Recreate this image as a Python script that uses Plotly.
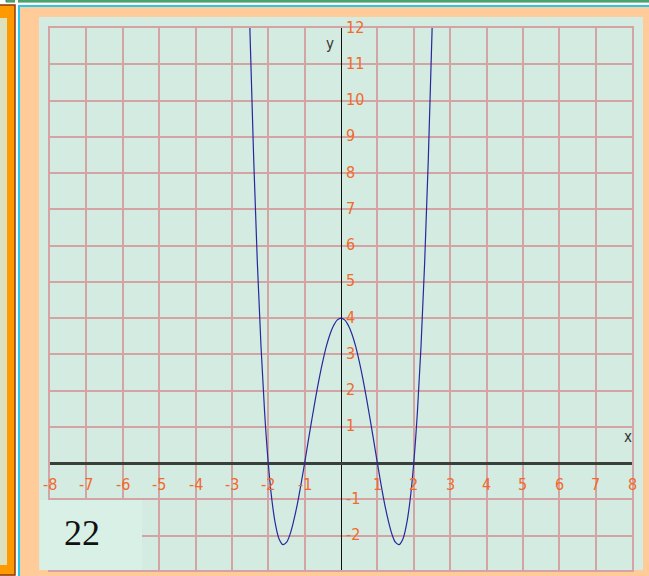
import plotly.graph_objects as go

# Curve y = f(x) sampled along x (readings of the plotted quartic)
curve_x = [-2.6, -2.5, -2.4, -2.3, -2.2, -2.1, -2.0, -1.9, -1.8, -1.7, -1.6, -1.5, -1.4,
           -1.3, -1.2, -1.1, -1.0, -0.9, -0.8, -0.7, -0.6, -0.5, -0.4, -0.3, -0.2, -0.1,
           0.0, 0.1, 0.2, 0.3, 0.4, 0.5, 0.6, 0.7, 0.8, 0.9, 1.0, 1.1, 1.2, 1.3, 1.4,
           1.5, 1.6, 1.7, 1.8, 1.9, 2.0, 2.1, 2.2, 2.3, 2.4, 2.5, 2.6]
curve_y = [15.90, 11.81, 8.38, 5.53, 3.23, 1.40, 0.00, -1.02, -1.70, -2.10, -2.25, -2.19, -1.96,
           -1.59, -1.13, -0.59, 0.00, 0.61, 1.21, 1.79, 2.33, 2.81, 3.23, 3.56, 3.80, 3.95,
           4.00, 3.95, 3.80, 3.56, 3.23, 2.81, 2.33, 1.79, 1.21, 0.61, 0.00, -0.59, -1.13, -1.59, -1.96,
           -2.19, -2.25, -2.10, -1.70, -1.02, 0.00, 1.40, 3.23, 5.53, 8.38, 11.81, 15.90]

# Tick labels written along the axes
x_ticks = [-8, -7, -6, -5, -4, -3, -2, -1, 1, 2, 3, 4, 5, 6, 7, 8]
y_ticks = [12, 11, 10, 9, 8, 7, 6, 5, 4, 3, 2, 1, -1, -2]
badge_text = "22"

W, H = 649, 576
ML, MR, MT, MB = 50, 17, 28, 6
PW, PH = W - ML - MR, H - MT - MB


def px(x):
    return (x - ML) / PW


def py(y):
    return (H - MB - y) / PH


PEACH = "#FFCC99"
MINT = "#D4EBE1"
GRID = "#D4A3A3"
TICK = "#F26A2A"
NARROW = "Liberation Sans Narrow, DejaVu Sans Condensed, Roboto Condensed, sans-serif"
TICK_FONT = dict(family=NARROW, size=16, color=TICK)

fig = go.Figure()
fig.add_trace(go.Scatter(x=curve_x, y=curve_y, mode="lines", line_shape="spline",
                         line=dict(color="#26289C", width=1.2), hoverinfo="skip"))

shapes = []


def rect(x0, y0, x1, y1, fill, line=None, lw=0, layer="below"):
    shapes.append(dict(type="rect", xref="paper", yref="paper",
                       x0=px(x0), x1=px(x1), y0=py(y1), y1=py(y0),
                       fillcolor=fill, line=dict(color=line or fill, width=lw), layer=layer))


# page frame decoration
rect(0, 0, W, 5, "#FFFFFF")
rect(6, 0, W + 2, 2, "#66BB88", "#2E8B57", 1)
rect(15, 0, 18, H, "#FFFFFF")
rect(-2, 5, 15, H - 1, "#FF9900", "#8B3A10", 1.5)
rect(-2, 18, 7, 565, "#DCE0BC")
rect(19, 6, W + 5, H + 5, PEACH, "#22C8EE", 2)
rect(39, 17, 643, 570, MINT)
# number badge in the lower-left corner
rect(40, 500, 142, 570, "#D8F0E6", layer="above")

annotations = []
for v in x_ticks:
    annotations.append(dict(x=v, y=0, xref="x", yref="y", text=str(v), showarrow=False,
                            yshift=-21, font=TICK_FONT, xanchor="center", yanchor="middle"))
for v in y_ticks:
    annotations.append(dict(x=0, y=v, xref="x", yref="y", text=str(v), showarrow=False,
                            xshift=3, yshift=1, font=TICK_FONT, xanchor="left", yanchor="middle"))
axis_font = dict(family=NARROW, size=15, color="#333333")
annotations.append(dict(x=-0.3, y=11.55, xref="x", yref="y", text="y", showarrow=False, font=axis_font))
annotations.append(dict(x=7.9, y=0.72, xref="x", yref="y", text="x", showarrow=False, font=axis_font))
annotations.append(dict(x=px(82), y=py(533), xref="paper", yref="paper", text=badge_text, showarrow=False,
                        xanchor="center", yanchor="middle",
                        font=dict(family="Liberation Serif, serif", size=36, color="#111111")))

fig.update_layout(
    width=W, height=H,
    margin=dict(l=ML, r=MR, t=MT, b=MB, pad=0),
    paper_bgcolor=PEACH, plot_bgcolor=MINT,
    showlegend=False,
    shapes=shapes, annotations=annotations,
    xaxis=dict(range=[-8, 8], dtick=1, tick0=0, showticklabels=False, ticks="",
               showgrid=True, gridcolor=GRID, gridwidth=1.5,
               zeroline=True, zerolinecolor="#111111", zerolinewidth=1,
               showline=True, mirror=True, linecolor=GRID, linewidth=1.5, fixedrange=True),
    yaxis=dict(range=[-2.95, 12], dtick=1, tick0=0, showticklabels=False, ticks="",
               showgrid=True, gridcolor=GRID, gridwidth=2,
               zeroline=True, zerolinecolor="#3A3F3C", zerolinewidth=3,
               showline=True, mirror=True, linecolor=GRID, linewidth=1.5, fixedrange=True),
)

fig.write_html("out.html", config={"displayModeBar": False})
